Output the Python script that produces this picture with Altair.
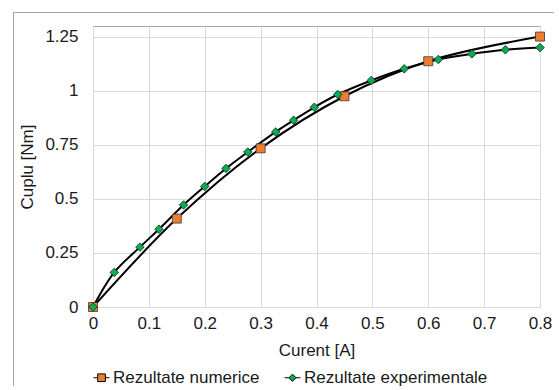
import altair as alt
import pandas as pd

num_x = [0, 0.15, 0.3, 0.45, 0.6, 0.8]
num_y = [0, 0.409, 0.734, 0.975, 1.137, 1.251]

exp_x = [0, 0.038, 0.084, 0.118, 0.162, 0.2, 0.238, 0.277, 0.327, 0.359, 0.396,
         0.438, 0.498, 0.557, 0.618, 0.678, 0.738, 0.8]
exp_y = [0, 0.16, 0.277, 0.36, 0.472, 0.558, 0.641, 0.717, 0.81, 0.864, 0.924,
         0.983, 1.048, 1.102, 1.145, 1.171, 1.19, 1.2]

series = ["Rezultate numerice", "Rezultate experimentale"]
colors = ["#ED7D31", "#00B050"]
x_ticks = [0, 0.1, 0.2, 0.3, 0.4, 0.5, 0.6, 0.7, 0.8]
y_ticks = [0, 0.25, 0.5, 0.75, 1, 1.25]

rows = []
for i, (x, y) in enumerate(zip(num_x, num_y)):
    rows.append({"x": x, "y": y, "s": series[0], "o": i})
for i, (x, y) in enumerate(zip(exp_x, exp_y)):
    rows.append({"x": x, "y": y, "s": series[1], "o": i})
df = pd.DataFrame(rows)

FONT = "Liberation Sans"
FS = 17
TXT = "#1a1a1a"
W, H = 447, 281
PAD = {"left": 93, "top": 26, "right": 14, "bottom": 79}

xs = alt.X("x:Q", scale=alt.Scale(domain=[0, 0.8], nice=False, zero=False),
           axis=alt.Axis(values=x_ticks, title="Curent [A]", labelFlush=False,
                         labelExpr="datum.value == 0 ? '0' : format(datum.value, '.1f')"))
ys = alt.Y("y:Q", scale=alt.Scale(domain=[0, 1.3], nice=False),
           axis=alt.Axis(values=y_ticks, title="Cuplu [Nm]", labelFlush=False,
                         labelExpr="'' + datum.value"))

sq = "M-1.45,0H-0.7M0.7,0H1.45M-0.7,-0.7H0.7V0.7H-0.7Z"
dm = "M-1.45,0H-0.65M0.65,0H1.45M0,-0.65L0.65,0L0,0.65L-0.65,0Z"

base = alt.Chart(df)

lines = base.mark_line(color="black", strokeWidth=2, interpolate="catmull-rom").encode(
    x=xs, y=ys, detail="s:N", order="o:Q")

pts_num = base.transform_filter(alt.datum.s == series[0]).mark_point(
    shape="square", filled=True, fill=colors[0], stroke="#3a3a3a", strokeWidth=0.8,
    size=81, opacity=1).encode(x=xs, y=ys)

pts_exp = base.transform_filter(alt.datum.s == series[1]).mark_point(
    shape="diamond", filled=True, fill=colors[1], stroke="#1f1f1f", strokeWidth=0.8,
    size=72, opacity=1).encode(x=xs, y=ys)

legend_layer = base.mark_point(filled=True, clip=True, opacity=1, stroke="black",
                               strokeWidth=1).encode(
    x=xs, y=alt.value(-500),
    fill=alt.Fill("s:N", scale=alt.Scale(domain=series, range=colors),
                  legend=alt.Legend(title=None, orient="bottom", direction="horizontal",
                                    symbolStrokeColor="black", symbolStrokeWidth=1,
                                    labelLimit=400)),
    shape=alt.Shape("s:N", scale=alt.Scale(domain=series, range=[sq, dm])),
)

edge_left = base.mark_rule(stroke="#a6a6a6", strokeWidth=1, clip=False).encode(
    x=alt.value(-79.5), y=alt.value(-13.5), y2=alt.value(H + PAD["bottom"]))
edge_top = base.mark_rule(stroke="#a6a6a6", strokeWidth=1, clip=False).encode(
    x=alt.value(-79.5), x2=alt.value(W + PAD["right"]), y=alt.value(-13.5))

chart = alt.layer(edge_left, edge_top, lines, pts_num, pts_exp, legend_layer).properties(
    width=W, height=H,
    padding=PAD,
    autosize=alt.AutoSizeParams(type="none"),
    background="white",
).configure_view(stroke="#a6a6a6", strokeWidth=1).configure_axis(
    grid=True, gridColor="#d9d9d9", gridWidth=1, domain=False, ticks=False,
    labelFont=FONT, labelFontSize=FS, labelColor=TXT,
    titleFont=FONT, titleFontSize=FS, titleColor=TXT, titleFontWeight="normal",
).configure_axisX(labelPadding=8, titlePadding=11).configure_axisY(
    labelPadding=15, titlePadding=8
).configure_legend(
    labelFont=FONT, labelFontSize=FS, labelColor=TXT, labelLimit=400,
    symbolSize=121, columnPadding=22, offset=11, labelOffset=3,
)

chart.save("out.html", embed_options={"renderer": "svg", "actions": False})
